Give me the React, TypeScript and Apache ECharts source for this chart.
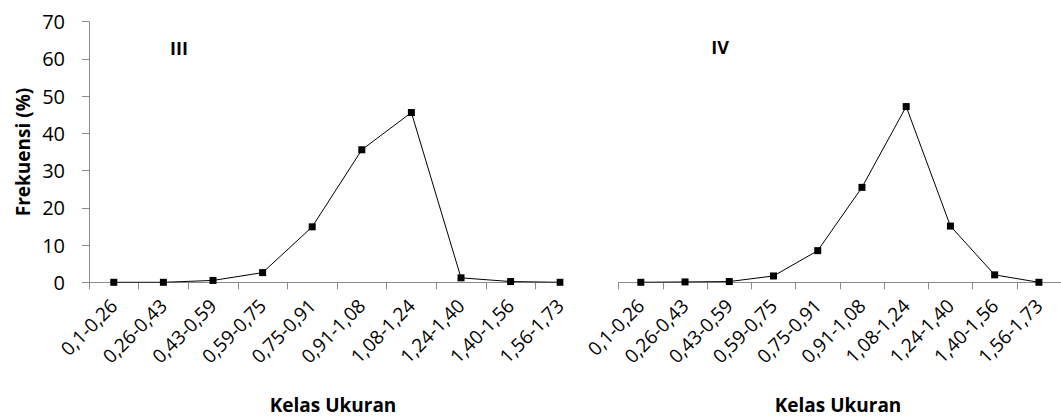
import React, { useEffect, useRef } from "react";
import * as echarts from "echarts";

const categories = [
  "0,1-0,26",
  "0,26-0,43",
  "0,43-0,59",
  "0,59-0,75",
  "0,75-0,91",
  "0,91-1,08",
  "1,08-1,24",
  "1,24-1,40",
  "1,40-1,56",
  "1,56-1,73",
];
const valuesIII = [0, 0, 0.5, 2.6, 14.9, 35.6, 45.6, 1.2, 0.2, 0];
const valuesIV = [0, 0.1, 0.2, 1.7, 8.5, 25.5, 47.2, 15.1, 2.0, 0];
const yMin = 0;
const yMax = 70;
const yStep = 10;
const panelLabels = ["III", "IV"];
const xTitle = "Kelas Ukuran";
const yTitle = "Frekuensi (%)";

const FONT = "'Open Sans', 'Noto Sans', sans-serif";
const AXIS_GRAY = "#8a8a8a";

export default function App() {
  const ref = useRef<HTMLDivElement>(null);

  useEffect(() => {
    if (!ref.current) return;
    const chart = echarts.init(ref.current, undefined, { renderer: "svg" });

    const top = 21.7;
    const height = 260.6;
    const grids = [
      { left: 89, top, width: 496, height },
      { left: 618.7, top, width: 449, height },
    ];

    const xAxis = grids.map((_, i) => ({
      type: "category" as const,
      gridIndex: i,
      data: categories,
      boundaryGap: true,
      axisLine: { show: true, lineStyle: { color: AXIS_GRAY, width: 1 } },
      axisTick: { show: true, length: 7, lineStyle: { color: AXIS_GRAY, width: 1 } },
      axisLabel: {
        rotate: 45,
        margin: 20,
        fontSize: 19,
        color: "#000",
        fontFamily: FONT,
        interval: 0,
      },
      splitLine: { show: false },
    }));

    const yAxis = grids.map((_, i) => ({
      type: "value" as const,
      gridIndex: i,
      min: yMin,
      max: yMax,
      interval: yStep,
      show: i === 0,
      axisLine: { show: true, lineStyle: { color: AXIS_GRAY, width: 1 } },
      axisTick: { show: true, length: 7, lineStyle: { color: AXIS_GRAY, width: 1 } },
      axisLabel: {
        margin: 24,
        fontSize: 20,
        color: "#000",
        fontFamily: FONT,
      },
      splitLine: { show: false },
    }));

    const seriesData = [valuesIII, valuesIV];
    const series = seriesData.map((d, i) => ({
      type: "line" as const,
      xAxisIndex: i,
      yAxisIndex: i,
      data: d,
      symbol: "rect",
      symbolSize: 7,
      itemStyle: { color: "#000" },
      lineStyle: { color: "#000", width: 1 },
      z: 5,
    }));

    const titleStyle = {
      fontFamily: FONT,
      fontWeight: "bold" as const,
      fontSize: 19,
      fill: "#000",
      textAlign: "center" as const,
      textVerticalAlign: "middle" as const,
    };

    chart.setOption({
      animation: false,
      backgroundColor: "#fff",
      grid: grids.map((g) => ({ ...g, containLabel: false })),
      xAxis,
      yAxis,
      series,
      graphic: [
        {
          type: "rect",
          z: 100,
          shape: { x: 563.5, y: 279, width: 54, height: 13 },
          style: { fill: "#fff" },
        },
        {
          type: "text",
          x: 179,
          y: 48,
          style: { ...titleStyle, text: panelLabels[0], fontSize: 18 },
        },
        {
          type: "text",
          x: 720,
          y: 47,
          style: { ...titleStyle, text: panelLabels[1], fontSize: 18 },
        },
        {
          type: "text",
          x: 333,
          y: 405,
          style: { ...titleStyle, text: xTitle },
        },
        {
          type: "text",
          x: 838,
          y: 405,
          style: { ...titleStyle, text: xTitle },
        },
        {
          type: "text",
          x: 23,
          y: 152,
          rotation: Math.PI / 2,
          style: { ...titleStyle, text: yTitle },
        },
      ],
    });

    return () => {
      chart.dispose();
    };
  }, []);

  return (
    <div
      ref={ref}
      style={{ position: "absolute", left: 0, top: 0, width: 1061, height: 419 }}
    />
  );
}
